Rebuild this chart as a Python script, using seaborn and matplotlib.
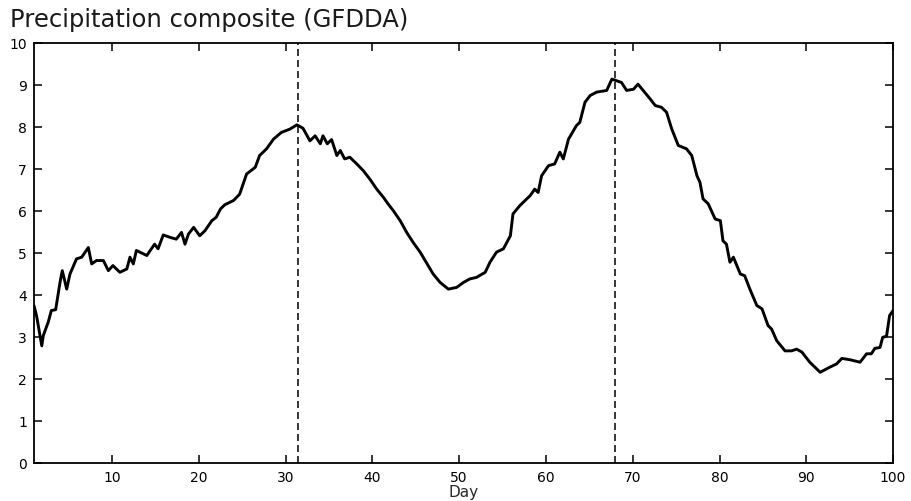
import matplotlib
matplotlib.use("Agg")
import matplotlib.pyplot as plt
import seaborn as sns
import pandas as pd

# values
days = [1.0, 1.3, 1.9, 2.07, 2.65, 3.0, 3.5, 4.0, 4.26, 4.77, 5.15, 5.9, 6.5, 7.26, 7.65,
        8.2, 9.0, 9.57, 10.1, 10.9, 11.7, 12.06, 12.45, 12.8, 14.0, 14.9, 15.3, 15.9, 16.7,
        17.4, 18.0, 18.4, 18.8, 19.4, 20.1, 20.7, 21.5, 22.0, 22.5, 23.0, 24.0, 24.7, 25.5,
        26.5, 27.0, 27.8, 28.6, 29.5, 30.5, 31.3, 32.0, 32.8, 33.4, 34.0, 34.3, 34.8, 35.3,
        35.9, 36.3, 36.8, 37.4, 38.2, 38.95, 39.7, 40.5, 41.25, 41.8, 42.4, 43.2, 43.95,
        44.7, 45.5, 46.3, 47.0, 47.8, 48.75, 49.7, 50.5, 51.2, 52.0, 53.0, 53.55, 54.3,
        55.1, 55.9, 56.2, 57.0, 57.6, 58.2, 58.7, 59.1, 59.5, 60.3, 61.0, 61.6, 62.0, 62.6,
        63.5, 63.9, 64.5, 65.1, 65.85, 67.0, 67.6, 68.15, 68.7, 69.3, 70.1, 70.6, 71.2,
        72.0, 72.6, 73.3, 73.9, 74.5, 75.25, 76.2, 76.8, 77.4, 77.75, 78.1, 78.7, 79.5,
        80.1, 80.4, 80.8, 81.2, 81.6, 82.4, 82.9, 83.5, 84.3, 84.9, 85.6, 86.0, 86.6,
        87.55, 88.3, 88.9, 89.5, 90.4, 91.6, 92.7, 93.5, 94.1, 95.0, 96.2, 96.95, 97.5,
        97.9, 98.5, 98.8, 99.25, 99.6, 100.0]
precip = [3.75, 3.5, 2.79, 3.03, 3.36, 3.63, 3.65, 4.30, 4.58, 4.14, 4.5, 4.86, 4.9, 5.13,
          4.74, 4.82, 4.82, 4.58, 4.70, 4.54, 4.62, 4.9, 4.74, 5.06, 4.94, 5.21, 5.1, 5.43,
          5.37, 5.33, 5.49, 5.21, 5.45, 5.61, 5.41, 5.53, 5.77, 5.85, 6.05, 6.15, 6.25, 6.40,
          6.88, 7.04, 7.32, 7.48, 7.71, 7.87, 7.95, 8.05, 7.97, 7.67, 7.79, 7.6, 7.79, 7.6,
          7.7, 7.32, 7.44, 7.24, 7.28, 7.12, 6.96, 6.76, 6.52, 6.33, 6.17, 6.01, 5.77, 5.49,
          5.25, 5.02, 4.74, 4.5, 4.30, 4.14, 4.18, 4.30, 4.38, 4.42, 4.54, 4.78, 5.02, 5.1,
          5.41, 5.93, 6.13, 6.25, 6.37, 6.52, 6.44, 6.84, 7.08, 7.12, 7.4, 7.24, 7.71, 8.03,
          8.11, 8.59, 8.75, 8.83, 8.87, 9.14, 9.1, 9.06, 8.87, 8.9, 9.02, 8.87, 8.67, 8.51,
          8.47, 8.35, 7.95, 7.56, 7.48, 7.32, 6.84, 6.68, 6.29, 6.17, 5.81, 5.77, 5.29, 5.21,
          4.78, 4.9, 4.5, 4.46, 4.14, 3.75, 3.67, 3.27, 3.19, 2.91, 2.67, 2.67, 2.71, 2.64,
          2.40, 2.16, 2.28, 2.36, 2.49, 2.46, 2.40, 2.60, 2.60, 2.73, 2.75, 2.99, 3.02, 3.51,
          3.63]
peak_days = [31.45, 68.0]
xticks = [10, 20, 30, 40, 50, 60, 70, 80, 90, 100]
yticks = list(range(0, 11))

sns.set_style("ticks")
plt.rcParams["font.family"] = ["DejaVu Sans"]
plt.rcParams["xtick.direction"] = "in"
plt.rcParams["ytick.direction"] = "in"

df = pd.DataFrame({"Day": days, "Precip": precip})

fig = plt.figure(figsize=(9.11, 5.02), dpi=100)
ax = fig.add_axes([0.0373, 0.0757, 0.9430, 0.8367])

sns.lineplot(data=df, x="Day", y="Precip", ax=ax, color="black", linewidth=2.1)
for d in peak_days:
    ax.axvline(d, color="black", linestyle=(0, (4.6, 2.6)), linewidth=1.1)

ax.set_xlim(1, 100)
ax.set_ylim(0, 10)
ax.set_xticks(xticks)
ax.set_yticks(yticks)
ax.tick_params(axis="both", which="both", top=True, right=True, length=5.5, width=1.1,
               labelsize=10, colors="black")
ax.tick_params(axis="x", pad=5)
ax.tick_params(axis="y", pad=5)
for s in ax.spines.values():
    s.set_linewidth(1.3)
    s.set_color("black")

ax.set_xlabel("Day", fontsize=11, labelpad=0)
ax.set_ylabel("")
fig.text(0.011, 1 - 27 / 502, "Precipitation composite (GFDDA)", fontsize=17.5,
         ha="left", va="baseline", color="#1a1a1a")

fig.savefig("out.png", dpi=100, facecolor="white")
